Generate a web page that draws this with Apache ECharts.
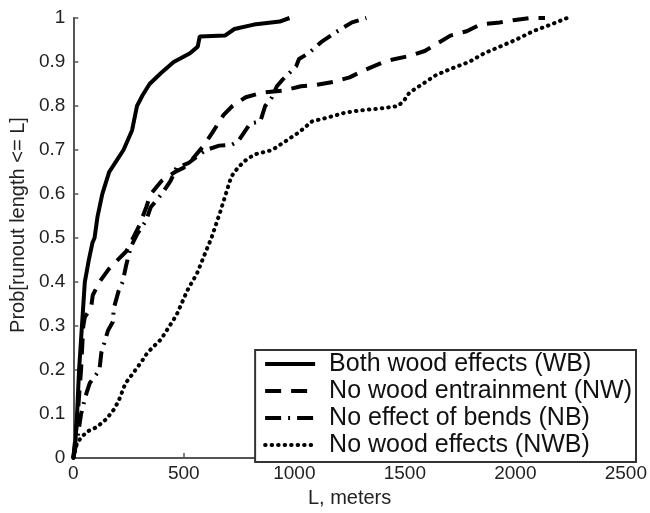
<!DOCTYPE html>
<html>
<head>
<meta charset="utf-8">
<script src="https://cdn.jsdelivr.net/npm/echarts@6/dist/echarts.min.js"></script>
<style>
  html, body { margin: 0; padding: 0; background: #fff; }
  #main { width: 650px; height: 513px; }
</style>
</head>
<body>
<div id="main"></div>
<script>
const bothWood = [
  [0, 0], [10, 0.04], [17, 0.1], [26, 0.2], [39, 0.3], [52, 0.4], [70, 0.45], [87, 0.49],
  [96, 0.5], [110, 0.55], [131, 0.6], [162, 0.65], [227, 0.7], [266, 0.745], [288, 0.8],
  [314, 0.825], [345, 0.85], [397, 0.875], [454, 0.9], [528, 0.92], [563, 0.935],
  [572, 0.958], [686, 0.96], [729, 0.975], [817, 0.985], [934, 0.992], [978, 1.0]
];
const noWoodEntrain = [
  [0, 0], [20, 0.1], [35, 0.2], [45, 0.3], [52, 0.32], [65, 0.33], [80, 0.34], [88, 0.37],
  [118, 0.4], [161, 0.43], [240, 0.47], [270, 0.5], [300, 0.53], [330, 0.57], [350, 0.6],
  [400, 0.63], [460, 0.65], [500, 0.66], [540, 0.68], [590, 0.71], [630, 0.74], [680, 0.78],
  [720, 0.8], [780, 0.82], [850, 0.83], [950, 0.835], [1030, 0.845], [1100, 0.848],
  [1180, 0.855], [1250, 0.865], [1310, 0.88], [1405, 0.9], [1440, 0.905], [1530, 0.915],
  [1590, 0.925], [1640, 0.94], [1706, 0.96], [1780, 0.97], [1840, 0.985], [1930, 0.99],
  [1990, 0.995], [2068, 1.0], [2134, 1.0]
];
const noBends = [
  [0, 0], [20, 0.05], [35, 0.1], [50, 0.13], [61, 0.15], [74, 0.17], [118, 0.2], [127, 0.24],
  [157, 0.29], [179, 0.31], [183, 0.34], [205, 0.38], [223, 0.4], [240, 0.44], [260, 0.48],
  [290, 0.51], [330, 0.54], [350, 0.57], [400, 0.6], [440, 0.63], [467, 0.66], [520, 0.67],
  [572, 0.69], [600, 0.7], [660, 0.71], [716, 0.712], [746, 0.72], [800, 0.76], [846, 0.765],
  [868, 0.8], [899, 0.82], [921, 0.845], [947, 0.86], [1008, 0.89], [1021, 0.907],
  [1065, 0.92], [1121, 0.945], [1195, 0.97], [1261, 0.99], [1326, 1.0]
];
const noWoodEffects = [
  [0, 0], [15, 0.03], [31, 0.044], [61, 0.06], [105, 0.07], [148, 0.088], [183, 0.11],
  [205, 0.13], [236, 0.17], [266, 0.19], [310, 0.22], [336, 0.24], [397, 0.27], [467, 0.325],
  [515, 0.38], [560, 0.42], [600, 0.47], [625, 0.5], [645, 0.53], [665, 0.56], [690, 0.6],
  [715, 0.64], [745, 0.66], [775, 0.675], [820, 0.69], [900, 0.7], [960, 0.72], [1020, 0.74],
  [1080, 0.765], [1160, 0.775], [1230, 0.785], [1300, 0.79], [1400, 0.795], [1470, 0.8],
  [1500, 0.815], [1520, 0.83], [1580, 0.85], [1640, 0.87], [1710, 0.885], [1790, 0.9],
  [1860, 0.92], [1930, 0.935], [2000, 0.95], [2080, 0.97], [2160, 0.985], [2234, 1.0]
];
const seriesNames = [
  'Both wood effects (WB)',
  'No wood entrainment (NW)',
  'No effect of bends (NB)',
  'No wood effects (NWB)'
];
const xTicks = [0, 500, 1000, 1500, 2000, 2500];

const font = 'Liberation Sans, Arial, sans-serif';
const chart = echarts.init(document.getElementById('main'));

const mkLine = (name, data, type, width, cap) => ({
  name: name,
  type: 'line',
  data: data,
  showSymbol: false,
  symbol: 'none',
  animation: false,
  lineStyle: { color: '#000', width: width, type: type, cap: cap || 'butt' },
  itemStyle: { color: '#000' }
});

const axisCommon = {
  axisLine: { show: true, lineStyle: { color: '#555', width: 2 } },
  axisTick: { show: true, inside: true, length: 5, lineStyle: { color: '#555', width: 1.5 } },
  splitLine: { show: false },
  axisLabel: { color: '#222', fontSize: 19, fontFamily: font }
};

chart.setOption({
  backgroundColor: '#fff',
  animation: false,
  grid: { left: 66, right: 11, top: 18, bottom: 43, containLabel: false },
  xAxis: Object.assign({}, axisCommon, {
    type: 'value',
    min: xTicks[0],
    max: xTicks[xTicks.length - 1],
    interval: 500,
    name: 'L, meters',
    nameLocation: 'middle',
    nameGap: 26,
    nameTextStyle: { color: '#222', fontSize: 20, fontFamily: font },
    axisLabel: Object.assign({}, axisCommon.axisLabel, { margin: 6, formatter: (v) => String(v) })
  }),
  yAxis: Object.assign({}, axisCommon, {
    type: 'value',
    min: 0,
    max: 1,
    interval: 0.1,
    name: 'Prob[runout length <= L]',
    nameLocation: 'middle',
    nameGap: 36,
    nameTextStyle: { color: '#222', fontSize: 20, fontFamily: font, padding: [0, 0, 0, 26] },
    axisLabel: Object.assign({}, axisCommon.axisLabel, { margin: 8 })
  }),
  legend: {
    data: seriesNames,
    orient: 'vertical',
    right: 14,
    bottom: 51,
    backgroundColor: '#fff',
    borderColor: '#333',
    borderWidth: 2,
    borderRadius: 0,
    padding: [1, 4, 4, 8],
    itemWidth: 50,
    itemHeight: 14,
    itemGap: 1,
    align: 'left',
    selectedMode: false,
    itemStyle: { opacity: 0 },
    lineStyle: { width: 4 },
    textStyle: { color: '#111', fontSize: 25, fontFamily: font, lineHeight: 26, padding: [0, 0, 0, 9] }
  },
  series: [
    mkLine(seriesNames[0], bothWood, 'solid', 4),
    mkLine(seriesNames[1], noWoodEntrain, [16, 10], 4),
    mkLine(seriesNames[2], noBends, [16, 7, 2, 7], 4),
    mkLine(seriesNames[3], noWoodEffects, [0.5, 6], 4, 'round')
  ]
});
</script>
</body>
</html>
